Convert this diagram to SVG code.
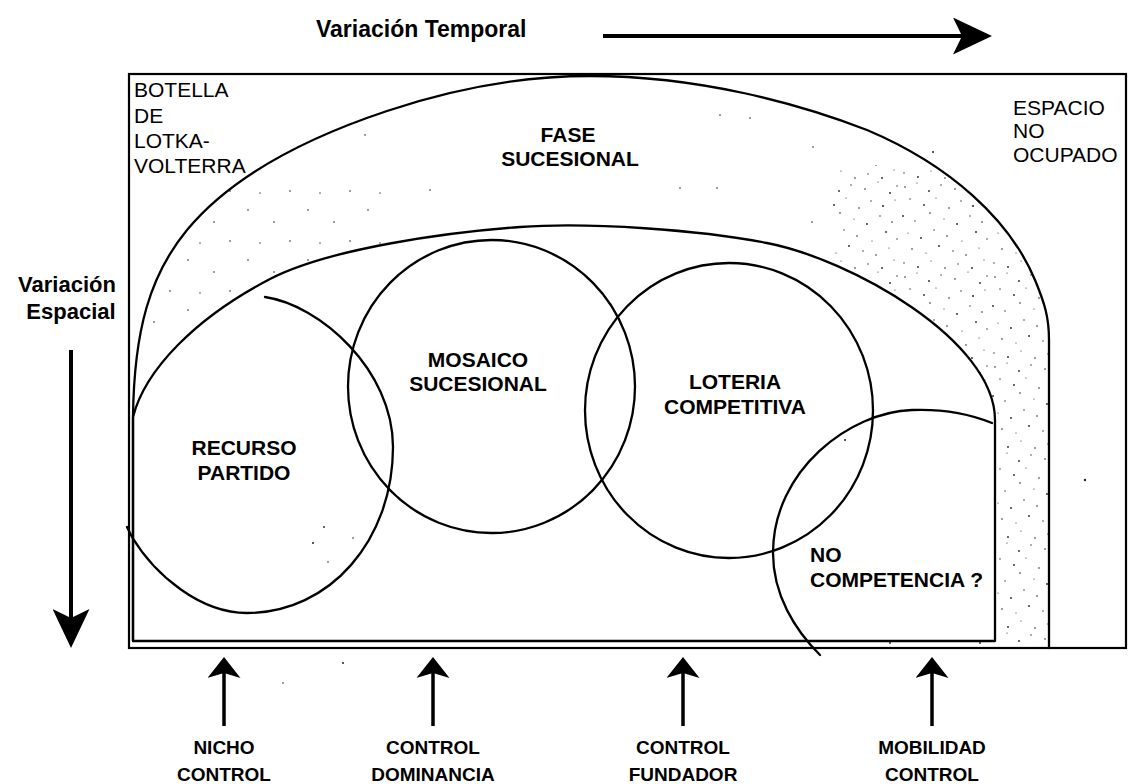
<svg xmlns="http://www.w3.org/2000/svg" width="1128" height="784" viewBox="0 0 1128 784">
<style>
  .ln{fill:none;stroke:#000;stroke-width:2.3;stroke-linejoin:round;stroke-linecap:round}
  .fr{fill:none;stroke:#000;stroke-width:2.2}
  .b{font-family:"Liberation Sans",Arial,Helvetica,sans-serif;font-weight:bold;fill:#000}
  .r{font-family:"Liberation Sans",Arial,Helvetica,sans-serif;font-size:21px;fill:#000}
  .lbl{font-size:21px;text-anchor:middle}
  .ax{font-size:23px}
  .axv{font-size:22px;text-anchor:middle}
  .bt{font-size:19px;text-anchor:middle}
  .shaft{stroke:#000;fill:none}
  .dot{fill:#222}
</style>
<defs>
  <!-- notched arrowheads -->
  <marker id="bigHead" viewBox="0 0 39 37" refX="9" refY="18.5" markerWidth="39" markerHeight="37" markerUnits="userSpaceOnUse" orient="auto">
    <path d="M0,0 L39,18.5 L0,37 L9,18.5 Z" fill="#000"/>
  </marker>
  <marker id="smallHead" viewBox="0 0 21 33" refX="5" refY="16.5" markerWidth="21" markerHeight="33" markerUnits="userSpaceOnUse" orient="auto">
    <path d="M0,0 L21,16.5 L0,33 L5,16.5 Z" fill="#000"/>
  </marker>
  <!-- stipple textures -->
  <pattern id="stippleDense" width="90" height="90" patternUnits="userSpaceOnUse">
    <g class="dot">
      <circle cx="5" cy="7" r="0.8"/><circle cx="17" cy="3" r="0.6"/><circle cx="29" cy="11" r="0.9"/><circle cx="41" cy="5" r="0.7"/>
      <circle cx="55" cy="9" r="0.8"/><circle cx="68" cy="2" r="0.6"/><circle cx="80" cy="13" r="0.9"/><circle cx="87" cy="6" r="0.7"/>
      <circle cx="10" cy="19" r="0.7"/><circle cx="24" cy="25" r="0.9"/><circle cx="36" cy="18" r="0.6"/><circle cx="49" cy="28" r="0.8"/>
      <circle cx="61" cy="21" r="0.7"/><circle cx="73" cy="26" r="1"/><circle cx="85" cy="20" r="0.6"/>
      <circle cx="3" cy="36" r="0.9"/><circle cx="15" cy="41" r="0.7"/><circle cx="30" cy="33" r="0.8"/><circle cx="44" cy="39" r="0.6"/>
      <circle cx="57" cy="44" r="0.9"/><circle cx="70" cy="36" r="0.7"/><circle cx="82" cy="42" r="0.8"/>
      <circle cx="8" cy="53" r="0.6"/><circle cx="21" cy="58" r="0.9"/><circle cx="34" cy="50" r="0.7"/><circle cx="47" cy="56" r="0.8"/>
      <circle cx="62" cy="61" r="0.6"/><circle cx="76" cy="52" r="0.9"/><circle cx="87" cy="59" r="0.7"/>
      <circle cx="12" cy="69" r="0.8"/><circle cx="26" cy="73" r="0.6"/><circle cx="39" cy="66" r="0.9"/><circle cx="53" cy="71" r="0.7"/>
      <circle cx="66" cy="75" r="0.8"/><circle cx="79" cy="68" r="0.6"/>
      <circle cx="4" cy="83" r="0.7"/><circle cx="18" cy="87" r="0.9"/><circle cx="31" cy="81" r="0.6"/><circle cx="45" cy="88" r="0.8"/>
      <circle cx="58" cy="84" r="0.7"/><circle cx="72" cy="88" r="0.9"/><circle cx="84" cy="80" r="0.6"/>
    </g>
  </pattern>
  <pattern id="stippleSparse" width="60" height="50" patternUnits="userSpaceOnUse">
    <g class="dot">
      <circle cx="8" cy="10" r="0.8"/><circle cx="34" cy="22" r="0.8"/><circle cx="50" cy="41" r="0.8"/><circle cx="20" cy="43" r="0.7"/>
    </g>
  </pattern>
  <!-- band between the two domes -->
  <clipPath id="band">
    <path clip-rule="evenodd" d="M133,641 L133,417 C134,330 150,275 187,230 C230,178 300,140 387,111 C450,90 520,76 590,76 C700,76 800,104 867,130 C950,165 1010,220 1035,280 C1045,304 1049,318 1049,340 L1049,648 L133,648 Z
      M133,641 L133,417 C145,370 195,318 270,279 C330,248 450,232 520,227 C590,222 700,230 767,243 C850,259 995,340 995,420 L995,641 Z"/>
  </clipPath>
</defs>

<rect width="1128" height="784" fill="#fff"/>

<!-- outer frame -->
<g id="frame">
  <rect class="fr" x="129" y="74" width="997" height="574"/>
</g>

<!-- stippled fringe of the successional phase -->
<g id="stipple">
  <g clip-path="url(#band)">
    <rect x="832" y="165" width="221" height="487" fill="url(#stippleDense)"/>
    <rect x="150" y="185" width="240" height="150" fill="url(#stippleSparse)"/>
  </g>
  <g class="dot">
    <circle cx="365" cy="135" r="0.8"/><circle cx="430" cy="190" r="0.8"/><circle cx="720" cy="115" r="0.8"/>
    <circle cx="750" cy="118" r="0.8"/><circle cx="813" cy="147" r="0.8"/><circle cx="933" cy="152" r="1"/>
    <circle cx="680" cy="188" r="0.8"/><circle cx="717" cy="188" r="0.8"/><circle cx="812" cy="222" r="0.8"/>
    <circle cx="1085" cy="480" r="1.2"/><circle cx="324" cy="527" r="0.9"/><circle cx="328" cy="562" r="0.8"/>
    <circle cx="353" cy="538" r="0.8"/><circle cx="313" cy="543" r="1"/><circle cx="343" cy="663" r="1"/>
    <circle cx="283" cy="683" r="0.8"/><circle cx="845" cy="440" r="1"/>
  </g>
</g>

<!-- FASE SUCESIONAL: outer dome -->
<g id="fase-sucesional">
  <path class="ln" d="M133,641 L133,417 C134,330 150,275 187,230 C230,178 300,140 387,111 C450,90 520,76 590,76 C700,76 800,104 867,130 C950,165 1010,220 1035,280 C1045,304 1049,318 1049,340 L1049,648"/>
  <text class="b lbl" x="568" y="142">FASE</text>
  <text class="b lbl" x="570" y="166">SUCESIONAL</text>
</g>

<!-- inner dome -->
<g id="dominio-interior">
  <path class="ln" d="M133,641 L133,417 C145,370 195,318 270,279 C330,248 450,232 520,227 C590,222 700,230 767,243 C850,259 995,340 995,420 L995,641 Z"/>
</g>

<g id="botella">
  <text class="r" x="134" y="97">BOTELLA</text>
  <text class="r" x="134" y="123">DE</text>
  <text class="r" x="134" y="148">LOTKA-</text>
  <text class="r" x="134" y="173">VOLTERRA</text>
</g>

<g id="espacio">
  <text class="r" x="1013" y="115">ESPACIO</text>
  <text class="r" x="1013" y="138">NO</text>
  <text class="r" x="1013" y="162">OCUPADO</text>
</g>

<g id="recurso-partido">
  <path class="ln" d="M265,297 C320,305 393,370 393,447 C393,540 330,613 247,613 C200,613 155,575 132,537 L127,527"/>
  <text class="b lbl" x="244" y="455">RECURSO</text>
  <text class="b lbl" x="244" y="480">PARTIDO</text>
</g>

<g id="mosaico-sucesional">
  <ellipse class="ln" cx="491.5" cy="386.5" rx="143.5" ry="146.5"/>
  <text class="b lbl" x="478" y="367">MOSAICO</text>
  <text class="b lbl" x="478" y="391">SUCESIONAL</text>
</g>

<g id="loteria-competitiva">
  <ellipse class="ln" cx="729" cy="410.5" rx="144" ry="147.5"/>
  <text class="b lbl" x="735" y="389">LOTERIA</text>
  <text class="b lbl" x="735" y="414">COMPETITIVA</text>
</g>

<g id="no-competencia">
  <path class="ln" d="M992,423 C965,412 940,409 912,410 C850,412 773,470 773,553 C773,595 795,630 820,655"/>
  <text class="b" font-size="21" x="810" y="562">NO</text>
  <text class="b" font-size="21" x="810" y="587">COMPETENCIA ?</text>
</g>

<g id="eje-temporal">
  <text class="b ax" x="316" y="37">Variación Temporal</text>
</g>

<g id="eje-espacial">
  <text class="b axv" x="67" y="292">Variación</text>
  <text class="b axv" x="71" y="319">Espacial</text>
</g>

<!-- axis and control arrows -->
<g id="connectors">
  <line class="shaft" stroke-width="4" x1="603" y1="36" x2="962" y2="36" marker-end="url(#bigHead)"/>
  <line class="shaft" stroke-width="4" x1="71" y1="350" x2="71" y2="618" marker-end="url(#bigHead)"/>
  <line class="shaft" stroke-width="3.5" x1="224" y1="726" x2="224" y2="673" marker-end="url(#smallHead)"/>
  <line class="shaft" stroke-width="3.5" x1="433" y1="726" x2="433" y2="673" marker-end="url(#smallHead)"/>
  <line class="shaft" stroke-width="3.5" x1="683" y1="726" x2="683" y2="673" marker-end="url(#smallHead)"/>
  <line class="shaft" stroke-width="3.5" x1="932" y1="726" x2="932" y2="673" marker-end="url(#smallHead)"/>
</g>

<g id="nicho-control">
  <text class="b bt" x="224" y="754">NICHO</text>
  <text class="b bt" x="224" y="781">CONTROL</text>
</g>
<g id="control-dominancia">
  <text class="b bt" x="433" y="754">CONTROL</text>
  <text class="b bt" x="433" y="781">DOMINANCIA</text>
</g>
<g id="control-fundador">
  <text class="b bt" x="683" y="754">CONTROL</text>
  <text class="b bt" x="683" y="781">FUNDADOR</text>
</g>
<g id="mobilidad-control">
  <text class="b bt" x="932" y="754">MOBILIDAD</text>
  <text class="b bt" x="932" y="781">CONTROL</text>
</g>
</svg>
